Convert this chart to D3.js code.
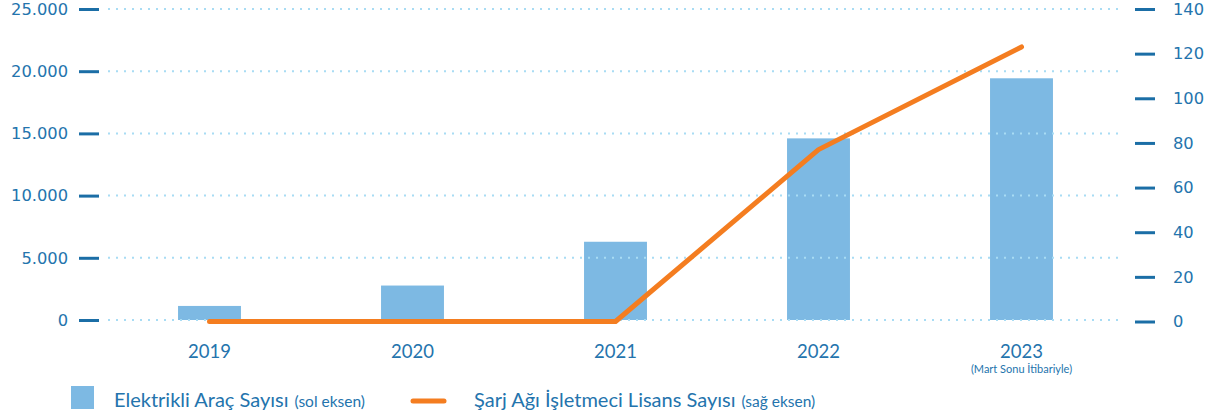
<!DOCTYPE html>
<html><head><meta charset="utf-8">
<script src="https://cdn.jsdelivr.net/npm/d3@7"></script>
<style>
html,body{margin:0;padding:0;background:#fff;}
svg{display:block;}
</style>
</head><body>
<svg id="chart" width="1211" height="420"></svg>
<script>
const years = ["2019","2020","2021","2022","2023"];
const evCounts = [1130, 2770, 6290, 14600, 19430];
const licenseCounts = [0, 0, 0, 77, 123];
const leftTicks = [0, 5000, 10000, 15000, 20000, 25000];
const rightTicks = [0, 20, 40, 60, 80, 100, 120, 140];
const yearNote = "(Mart Sonu İtibariyle)";
const legendBar = "Elektrikli Araç Sayısı";
const legendBarNote = "(sol eksen)";
const legendLine = "Şarj Ağı İşletmeci Lisans Sayısı";
const legendLineNote = "(sağ eksen)";

const svg = d3.select("#chart");
const textColor = "#2474ad";
const tickColor = "#1b6ea6";
const barColor = "#7db9e3";
const lineColor = "#f47d20";
const gridColor = "#a8dcf4";
const numFont = "'DejaVu Sans', sans-serif";
const labFont = "Lato, 'Noto Sans', sans-serif";

const x = d3.scaleBand().domain(years).range([108, 1123]).paddingInner(0.69).paddingOuter(0.345);
const yL = d3.scaleLinear().domain([0, 25000]).range([320, 9]);
const yR = d3.scaleLinear().domain([0, 140]).range([321.5, 9]);

const fmt = v => d3.format(",")(v).replace(/,/g, ".");

// bars
svg.append("g").selectAll("rect").data(years).join("rect")
  .attr("x", d => x(d))
  .attr("y", (d,i) => yL(evCounts[i]))
  .attr("width", x.bandwidth())
  .attr("height", (d,i) => yL(0) - yL(evCounts[i]))
  .attr("fill", barColor);

// gridlines
svg.append("g").selectAll("line").data(leftTicks).join("line")
  .attr("x1", 108).attr("x2", 1123)
  .attr("y1", d => yL(d)).attr("y2", d => yL(d))
  .attr("stroke", gridColor).attr("stroke-width", 2)
  .attr("stroke-dasharray", "2,6");

// left axis
const axL = d3.axisLeft(yL).tickValues(leftTicks).tickFormat(fmt).tickSize(0).tickPadding(0);
const gL = svg.append("g").attr("transform", "translate(68,0)").call(axL);
gL.select(".domain").remove();
gL.selectAll("text").attr("font-family", numFont).attr("font-size", 16.3).attr("fill", textColor).attr("x", 0);
gL.selectAll(".tick").append("line").attr("x1", 11).attr("x2", 31).attr("stroke", tickColor).attr("stroke-width", 3);

// right axis
const axR = d3.axisRight(yR).tickValues(rightTicks).tickSize(0).tickPadding(0);
const gR = svg.append("g").attr("transform", "translate(1173,0)").call(axR);
gR.select(".domain").remove();
gR.selectAll("text").attr("font-family", numFont).attr("font-size", 16.3).attr("fill", textColor).attr("x", 0);
gR.selectAll(".tick").append("line").attr("x1", -38).attr("x2", -18).attr("stroke", tickColor).attr("stroke-width", 3);

// x axis
const axX = d3.axisBottom(x).tickSize(0).tickPadding(0);
const gX = svg.append("g").attr("transform", "translate(0,358)").call(axX);
gX.select(".domain").remove();
gX.selectAll("text").attr("font-family", labFont).attr("font-size", 18.5).attr("fill", textColor).attr("dy", 0);
svg.append("text").attr("x", x("2023") + x.bandwidth()/2).attr("y", 373)
  .attr("text-anchor", "middle").attr("font-family", labFont).attr("font-size", 11)
  .attr("fill", textColor).text(yearNote);

// line
const line = d3.line().x((d,i) => x(years[i]) + x.bandwidth()/2).y(d => yR(d));
svg.append("path").datum(licenseCounts).attr("d", line)
  .attr("fill", "none").attr("stroke", lineColor).attr("stroke-width", 5)
  .attr("stroke-linecap", "round").attr("stroke-linejoin", "round");

// legend
svg.append("rect").attr("x", 71).attr("y", 386).attr("width", 23).attr("height", 23).attr("fill", barColor);
const t1 = svg.append("text").attr("x", 114).attr("y", 407).attr("font-family", labFont).attr("fill", textColor);
t1.append("tspan").attr("font-size", 20).text(legendBar);
t1.append("tspan").attr("font-size", 15.5).attr("dx", 6).text(legendBarNote);
svg.append("line").attr("x1", 413).attr("x2", 444).attr("y1", 401).attr("y2", 401)
  .attr("stroke", lineColor).attr("stroke-width", 5).attr("stroke-linecap", "round");
const t2 = svg.append("text").attr("x", 474).attr("y", 407).attr("font-family", labFont).attr("fill", textColor);
t2.append("tspan").attr("font-size", 20).text(legendLine);
t2.append("tspan").attr("font-size", 15.5).attr("dx", 6).text(legendLineNote);
</script>
</body></html>
